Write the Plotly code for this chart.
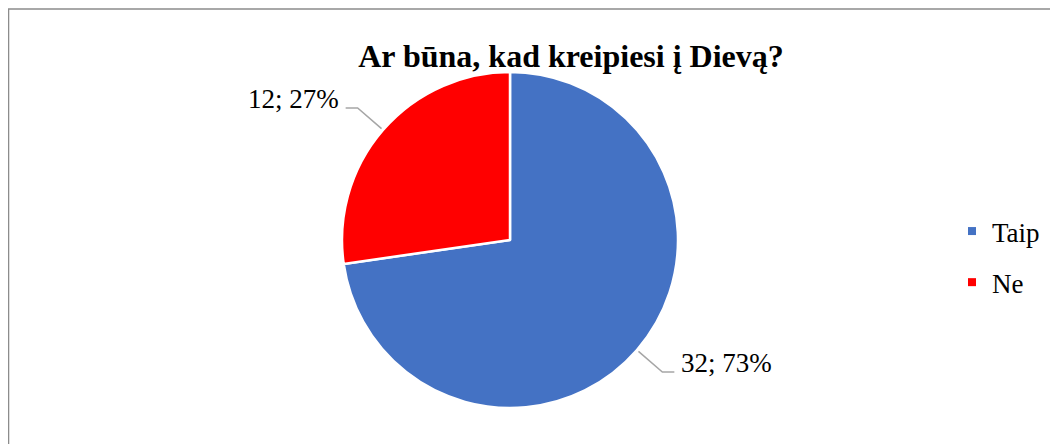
import math
import plotly.graph_objects as go

labels = ["Taip", "Ne"]
values = [32, 12]
colors = ["#4472C4", "#FF0000"]
title_text = "Ar būna, kad kreipiesi į Dievą?"

W, H = 1058, 444
OX, OY = 8, 7          # page offset of the plot div in the browser
cx, cy, r = 510, 239, 168  # pie centre / radius in page pixels

def px(x):
    return (x - OX) / W

def py(y):
    return 1 - (y - OY) / H

fig = go.Figure(go.Pie(
    labels=labels, values=values, sort=False, direction="clockwise", rotation=0,
    marker=dict(colors=colors, line=dict(color="white", width=2.5)),
    textinfo="none", hoverinfo="label+value+percent", showlegend=False,
    domain=dict(x=[px(cx - r), px(cx + r)], y=[py(cy + r), py(cy - r)]),
))

# legend entries (one group each so the spacing can be set)
for lab, col in zip(labels, colors):
    fig.add_trace(go.Scatter(
        x=[None], y=[None], mode="markers", name=lab, legendgroup=lab,
        marker=dict(symbol="square", size=8, color=col), hoverinfo="skip",
    ))

total = sum(values)
shapes = []
annotations = []
cum = 0
for lab, v in zip(labels, values):
    mid = (cum + v / 2) / total * 2 * math.pi
    cum += v
    dx, dy = math.sin(mid), -math.cos(mid)
    x0, y0 = cx + (r + 2) * dx, cy + (r + 2) * dy
    x1, y1 = cx + 1.2 * r * dx, cy + 1.2 * r * dy
    side = 1 if dx > 0 else -1
    x2 = x1 + 12 * side
    shapes.append(dict(type="path", xref="paper", yref="paper",
                       path=f"M {px(x0)} {py(y0)} L {px(x1)} {py(y1)} L {px(x2)} {py(y1)}",
                       line=dict(color="#A6A6A6", width=1.5)))
    pct = round(v / total * 100)
    annotations.append(dict(
        text=f"{v}; {pct}%", xref="paper", yref="paper",
        x=px(x2 + 5 * side), y=py(y1 - 9),
        xanchor="left" if side > 0 else "right", yanchor="middle",
        showarrow=False, font=dict(family="Liberation Serif", size=27, color="black"),
    ))

# chart border
shapes.append(dict(type="rect", xref="paper", yref="paper",
                   x0=0.0005, x1=1.02, y0=-0.02, y1=0.998,
                   line=dict(color="#8C8C8C", width=1.5), fillcolor="rgba(0,0,0,0)"))

fig.update_layout(
    width=W, height=H,
    margin=dict(l=0, r=0, t=0, b=0, autoexpand=False),
    paper_bgcolor="white", plot_bgcolor="white",
    xaxis=dict(visible=False), yaxis=dict(visible=False),
    title=dict(text=f"<b>{title_text}</b>", x=px(571), xanchor="center",
               y=py(55), yanchor="middle", automargin=False,
               font=dict(family="Liberation Serif", size=32, color="black")),
    legend=dict(x=px(952), y=py(256), xanchor="left", yanchor="middle",
                font=dict(family="Liberation Serif", size=27, color="black"),
                bgcolor="rgba(0,0,0,0)", itemwidth=30, tracegroupgap=13),
    showlegend=True,
    shapes=shapes,
    annotations=annotations,
)

fig.write_html("out.html")
